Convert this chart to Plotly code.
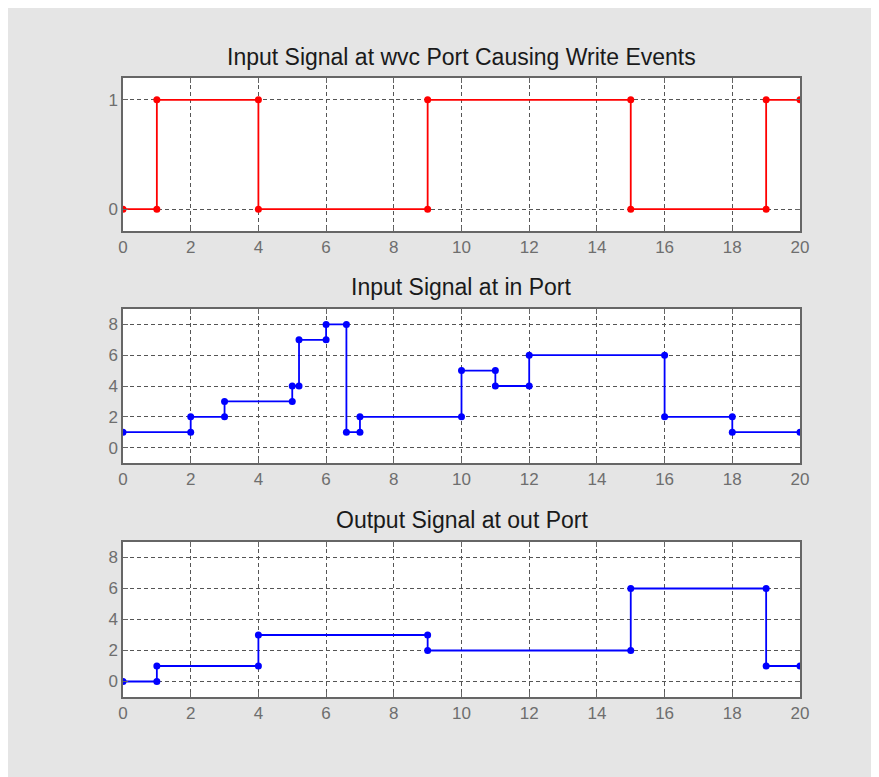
import plotly.graph_objects as go
from plotly.subplots import make_subplots

# step signals, points where the plotted line changes
wvc_t = [0, 1, 1, 4, 4, 9, 9, 15, 15, 19, 19, 20]
wvc_v = [0, 0, 1, 1, 0, 0, 1, 1, 0, 0, 1, 1]

in_t = [0, 2, 2, 3, 3, 5, 5, 5.2, 5.2, 6, 6, 6.6, 6.6, 7, 7, 10, 10, 11, 11, 12, 12, 16, 16, 18, 18, 20]
in_v = [1, 1, 2, 2, 3, 3, 4, 4, 7, 7, 8, 8, 1, 1, 2, 2, 5, 5, 4, 4, 6, 6, 2, 2, 1, 1]

out_t = [0, 1, 1, 4, 4, 9, 9, 15, 15, 19, 19, 20]
out_v = [0, 0, 1, 1, 3, 3, 2, 2, 6, 6, 1, 1]

titles = ["Input Signal at wvc Port Causing Write Events",
          "Input Signal at in Port",
          "Output Signal at out Port"]

W, H = 880, 777
fig = make_subplots(rows=3, cols=1)

for i, (t, v, c) in enumerate([(wvc_t, wvc_v, "#ff0000"),
                               (in_t, in_v, "#0000ff"),
                               (out_t, out_v, "#0000ff")]):
    fig.add_trace(go.Scatter(x=t, y=v, mode="lines+markers",
                             line=dict(color=c, width=1.8),
                             marker=dict(color=c, size=7, symbol="circle"),
                             showlegend=False), row=i + 1, col=1)

domains = [[0.7528, 1.0], [0.378, 0.6268], [0.0, 0.2504]]
yranges = [[-0.2, 1.2], [-1, 9], [-1, 9]]
yticks = [[0, 1], [0, 2, 4, 6, 8], [0, 2, 4, 6, 8]]

axis_style = dict(showline=True, mirror="ticks", linecolor="#666666", linewidth=1.5,
                  ticks="inside", ticklen=5, tickcolor="#666666",
                  showgrid=True, gridcolor="#555555", gridwidth=1, griddash="4px,3px",
                  zeroline=False, tickfont=dict(size=17, color="#6e6e6e"))

for i in range(3):
    n = "" if i == 0 else str(i + 1)
    fig.layout["xaxis" + n].update(range=[0, 20], tickvals=list(range(0, 21, 2)), **axis_style)
    fig.layout["yaxis" + n].update(range=yranges[i], tickvals=yticks[i], domain=domains[i], **axis_style)

title_y = [49, 279, 512]
for i in range(3):
    fig.add_annotation(text=titles[i], xref="paper", yref="paper",
                       x=0.5, y=(689 - title_y[i]) / 619, showarrow=False,
                       xanchor="center", yanchor="middle",
                       font=dict(size=23, color="#1a1a1a"))

fig.update_layout(width=W, height=H,
                  margin=dict(l=115, r=88, t=70, b=88),
                  paper_bgcolor="#e5e5e5", plot_bgcolor="#ffffff",
                  font=dict(family="Liberation Sans, Arial, sans-serif"))

fig.write_html("out.html")
